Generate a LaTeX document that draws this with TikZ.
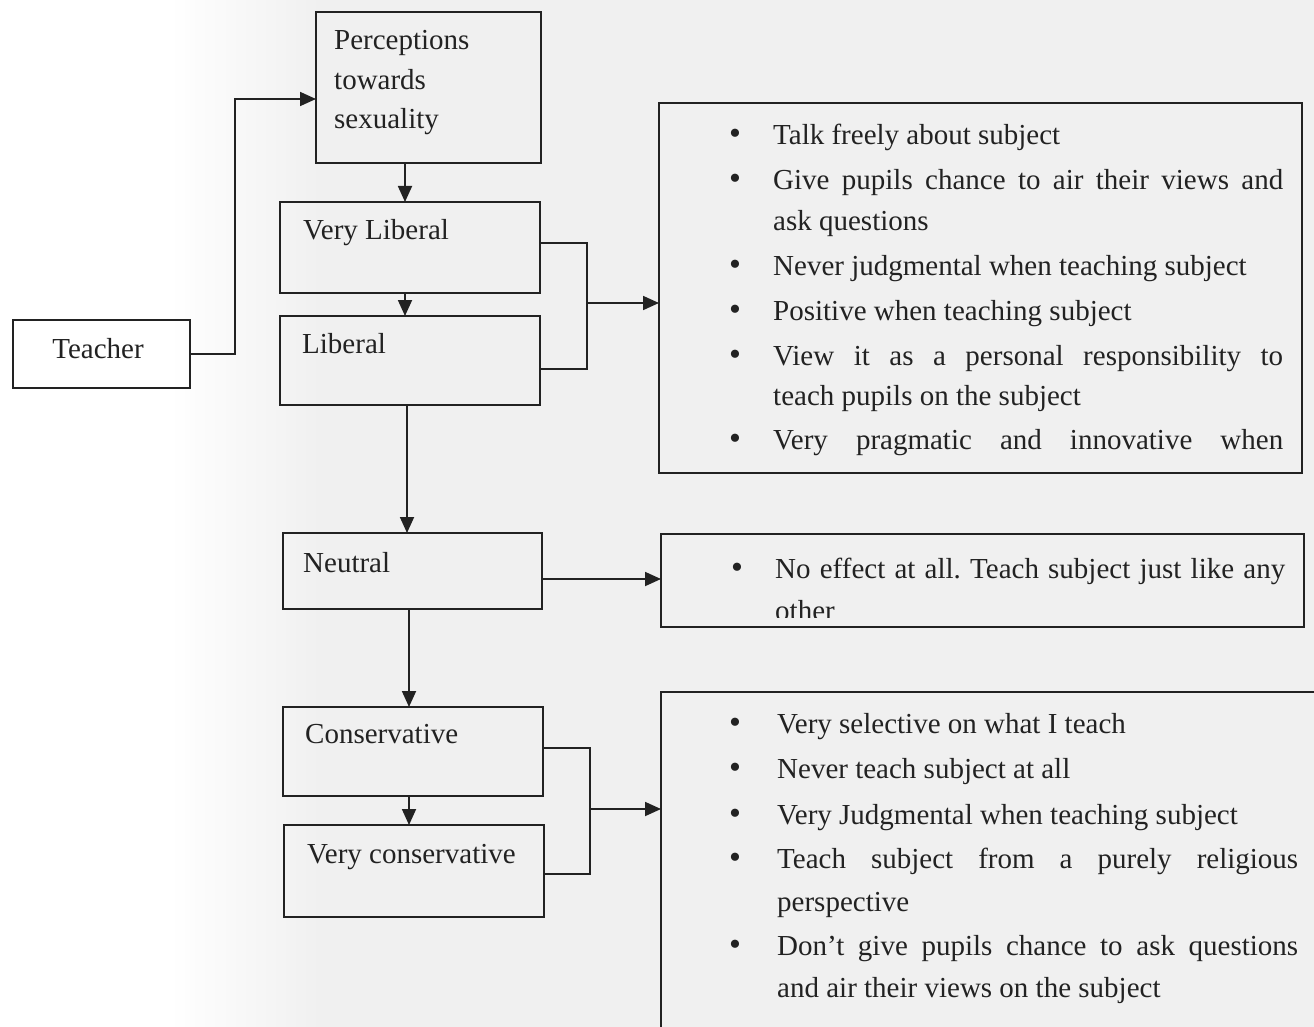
\documentclass[tikz,border=0pt]{standalone}
\usepackage{fontspec}
\setmainfont{Liberation Serif}
\usetikzlibrary{arrows.meta}
\definecolor{ink}{HTML}{222222}
\definecolor{bgc}{HTML}{F0F0F0}
\frenchspacing
\begin{document}
\begin{tikzpicture}[x=1pt,y=-1pt,
  boxst/.style={draw=ink, line width=1.8pt, anchor=north west, inner sep=0pt, outer sep=0pt},
  lbl/.style={anchor=base west, inner sep=0pt, text=ink, font=\fontsize{29}{43}\selectfont},
  clbl/.style={anchor=base, inner sep=0pt, text=ink, font=\fontsize{29}{43}\selectfont},
  bul/.style={anchor=base, inner sep=0pt, text=ink, font=\fontsize{34}{43}\selectfont},
  conn/.style={draw=ink, line width=1.8pt},
  arr/.style={conn, -{Triangle[length=16pt,width=14pt]}}]
\useasboundingbox (0,0) rectangle (1314,1027);
\clip (0,0) rectangle (1314,1027);
% background
\fill[bgc] (0,0) rectangle (1314,1027);
\fill[white] (0,0) rectangle (170,1027);
\shade[left color=white, right color=bgc, shading angle=90] (170,0) rectangle (320,1027);

% left boxes
\node[boxst, minimum width=177pt, minimum height=68pt] (teacher) at (13,320) {};
\node[clbl] (tteacher) at (98,358) {Teacher};

\node[boxst, minimum width=225pt, minimum height=151pt] (perc) at (316,12) {};
\node[lbl] (tp1) at (334,50) {Perceptions};
\node[lbl] (tp2) at (334,90) {towards};
\node[lbl] (tp3) at (334,129) {sexuality};

\node[boxst, minimum width=260pt, minimum height=91pt] (vl) at (280,202) {};
\node[lbl] (tvl) at (303,239) {Very Liberal};

\node[boxst, minimum width=260pt, minimum height=89pt] (lib) at (280,316) {};
\node[lbl] (tlib) at (302,353) {Liberal};

\node[boxst, minimum width=259pt, minimum height=76pt] (neu) at (283,533) {};
\node[lbl] (tneu) at (303,572) {Neutral};

\node[boxst, minimum width=260pt, minimum height=89pt] (cons) at (283,707) {};
\node[lbl] (tcons) at (305,743) {Conservative};

\node[boxst, minimum width=260pt, minimum height=92pt] (vcons) at (284,825) {};
\node[lbl] (tvcons) at (307,863) {Very conservative};

% right boxes
\node[boxst, minimum width=643pt, minimum height=370pt] (lbox) at (659,103) {};
\node[boxst, minimum width=643pt, minimum height=93pt] (nbox) at (661,534) {};
\node[boxst, minimum width=700pt, minimum height=400pt] (cbox) at (661,692) {};

% text of liberal box
\node[bul] (b1) at (735,145) {\textbullet};
\node[lbl] (l1) at (773,145) {Talk freely about subject};
\node[bul] (b2) at (735,190) {\textbullet};
\node[lbl] (l2) at (773,190) {\makebox[510pt][s]{Give pupils chance to air their views and}};
\node[lbl] (l3) at (773,230) {ask questions};
\node[bul] (b3) at (735,275) {\textbullet};
\node[lbl] (l4) at (773,275) {Never judgmental when teaching subject};
\node[bul] (b4) at (735,320) {\textbullet};
\node[lbl] (l5) at (773,320) {Positive when teaching subject};
\node[bul] (b5) at (735,365) {\textbullet};
\node[lbl] (l6) at (773,365) {\makebox[510pt][s]{View it as a personal responsibility to}};
\node[lbl] (l7) at (773,405) {teach pupils on the subject};
\node[bul] (b6) at (735,449) {\textbullet};
\node[lbl] (l8) at (773,449) {\makebox[510pt][s]{Very pragmatic and innovative when}};

% text of neutral box
\node[bul] (nb1) at (737,578) {\textbullet};
\node[lbl] (n1) at (775,578) {\makebox[510pt][s]{No effect at all. Teach subject just like any}};
\begin{scope}
\clip (661,534) rectangle (1304,617);
\node[lbl] (n2) at (775,620) {other};
\end{scope}

% text of conservative box
\node[bul] (cb1) at (735,733) {\textbullet};
\node[lbl] (c1) at (777,733) {Very selective on what I teach};
\node[bul] (cb2) at (735,778) {\textbullet};
\node[lbl] (c2) at (777,778) {Never teach subject at all};
\node[bul] (cb3) at (735,824) {\textbullet};
\node[lbl] (c3) at (777,824) {Very Judgmental when teaching subject};
\node[bul] (cb4) at (735,868) {\textbullet};
\node[lbl] (c4) at (777,868) {\makebox[521pt][s]{Teach subject from a purely religious}};
\node[lbl] (c5) at (777,911) {perspective};
\node[bul] (cb5) at (735,955) {\textbullet};
\node[lbl] (c6) at (777,955) {\makebox[521pt][s]{Don’t give pupils chance to ask questions}};
\node[lbl] (c7) at (777,997) {and air their views on the subject};

% helper coordinates
\coordinate (tp) at (235,99);
\coordinate (xa) at (405,0);
\coordinate (xb) at (407,0);
\coordinate (xc) at (409,0);
\coordinate (lbA) at (587,243);
\coordinate (lbB) at (587,369);
\coordinate (lbM) at (587,303);
\coordinate (cbA) at (590,748);
\coordinate (cbB) at (590,874);
\coordinate (cbM) at (590,809);
\coordinate (nM) at (0,579);

% connectors
\draw[arr] (teacher.east) -| (tp) -- (tp -| perc.west);
\draw[arr] (perc.south -| xa) -- (vl.north -| xa);
\draw[arr] (vl.south -| xa) -- (lib.north -| xa);
\draw[arr] (lib.south -| xb) -- (neu.north -| xb);
\draw[arr] (neu.south -| xc) -- (cons.north -| xc);
\draw[arr] (cons.south -| xc) -- (vcons.north -| xc);

\draw[conn] (lbA -| vl.east) -- (lbA) -- (lbB) -- (lbB -| lib.east);
\draw[arr] (lbM) -- (lbM -| lbox.west);

\draw[arr] (nM -| neu.east) -- (nM -| nbox.west);

\draw[conn] (cbA -| cons.east) -- (cbA) -- (cbB) -- (cbB -| vcons.east);
\draw[arr] (cbM) -- (cbM -| cbox.west);
\end{tikzpicture}
\end{document}
